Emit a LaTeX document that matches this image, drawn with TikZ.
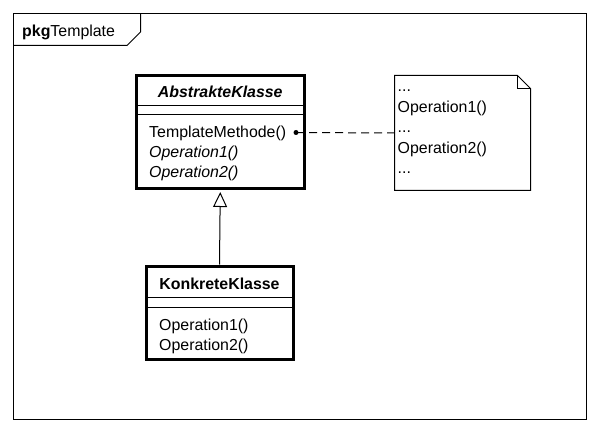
\documentclass[tikz,border=0pt]{standalone}
\usepackage{fontspec}
\setmainfont{Liberation Sans}
\usetikzlibrary{arrows.meta}
\begin{document}
\begin{tikzpicture}[x=1pt,y=-1pt,
  font=\fontsize{15.9}{20}\selectfont,
  thinline/.style={line width=1pt},
  classbox/.style={draw, rectangle, line width=3pt, inner sep=0pt},
  txt/.style={inner sep=0pt, anchor=base west},
  ctxt/.style={inner sep=0pt, anchor=base},
  gen/.style={line width=1pt, -{Triangle[open, width=14pt, length=15pt]}, shorten >=1.5pt},
  notelink/.style={line width=1pt, dash pattern=on 8pt off 5pt}
  ]
\useasboundingbox (0,0) rectangle (600,433);
% package frame
\draw[thinline] (13.5,13.5) rectangle (586.5,419.5);
\draw[thinline] (13.5,45.5) -- (127,45.5) -- (140.5,32) -- (140.5,13.5);
\node[txt] (pkg) at (22,37) {\textbf{pkg}Template};
% abstract class
\node[classbox, minimum width=167.5pt, minimum height=113.5pt] (abs) at (220.25,132.25) {};
\draw[thinline] (136.5,105.5) -- (304,105.5);
\draw[thinline] (136.5,114.5) -- (304,114.5);
\node[ctxt] (absname) at (220.25,98) {\textbf{\textit{AbstrakteKlasse}}};
\node[txt] (tm) at (149,138) {TemplateMethode()};
\node[txt] (aop1) at (149,158) {\textit{Operation1()}};
\node[txt] (aop2) at (149,178) {\textit{Operation2()}};
% concrete class
\node[classbox, minimum width=147pt, minimum height=93pt] (kon) at (219.5,312.5) {};
\draw[thinline] (146,297.5) -- (293,297.5);
\draw[thinline] (146,307.5) -- (293,307.5);
\node[ctxt] (konname) at (219.5,289) {\textbf{KonkreteKlasse}};
\node[txt] (kop1) at (159,330) {Operation1()};
\node[txt] (kop2) at (159,350) {Operation2()};
% note
\node[inner sep=0pt, minimum width=136pt, minimum height=115pt] (note) at (462.5,133) {};
\draw[thinline] (394.5,75.5) -- (517.5,75.5) -- (530.5,88.5) -- (530.5,190.5) -- (394.5,190.5) -- cycle;
\draw[thinline] (517.5,75.5) -- (517.5,88.5) -- (530.5,88.5);
\node[txt] (n1) at (397.5,92) {...};
\node[txt] (n2) at (397.5,112.5) {Operation1()};
\node[txt] (n3) at (397.5,133) {...};
\node[txt] (n4) at (397.5,153.5) {Operation2()};
\node[txt] (n5) at (397.5,174) {...};
% connectors
\draw[gen] (kon.north) -- (abs.south);
\coordinate (dot) at (296,132.5);
\fill (dot) circle (2.5pt);
\draw[notelink] (dot) -- (note.west);
\end{tikzpicture}
\end{document}
